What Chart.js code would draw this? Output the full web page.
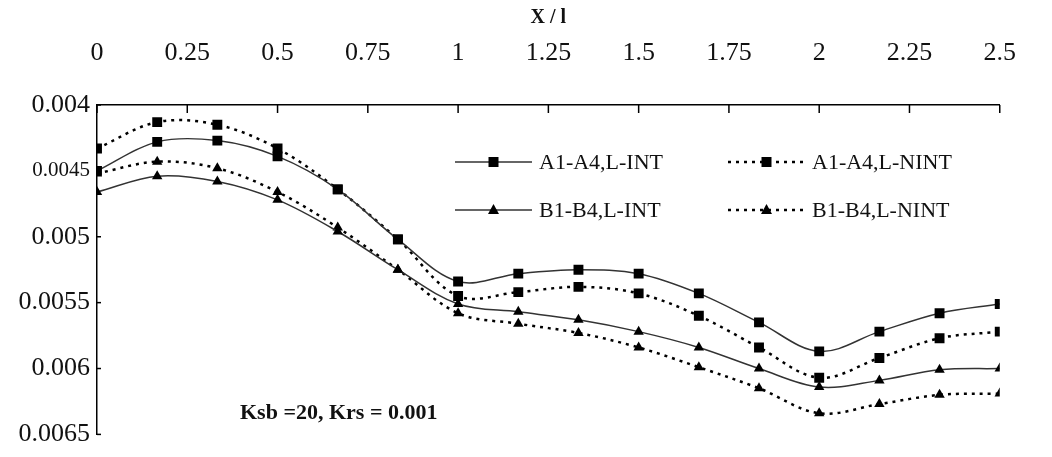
<!DOCTYPE html>
<html>
<head>
<meta charset="utf-8">
<script src="https://cdn.jsdelivr.net/npm/chart.js@4.4.0/dist/chart.umd.min.js"></script>
<style>
    html, body { margin: 0; padding: 0; background: #fff; }
    #wrap { width: 1052px; height: 457px; position: relative; }
</style>
</head>
<body>
<div id="wrap"><canvas id="chart1"></canvas></div>
<script>
// x positions of the measured sections (X / l)
const xValues = [0, 0.1667, 0.3333, 0.5, 0.6667, 0.8333, 1, 1.1667, 1.3333, 1.5, 1.6667, 1.8333, 2, 2.1667, 2.3333, 2.5];
const xTickLabels = ['0', '0.25', '0.5', '0.75', '1', '1.25', '1.5', '1.75', '2', '2.25', '2.5'];
const yTickLabels = ['0.004', '0.0045', '0.005', '0.0055', '0.006', '0.0065'];

// series values
const a1Int = [0.00450, 0.00428, 0.00427, 0.00439, 0.00464, 0.00502, 0.00534, 0.00528, 0.00525, 0.00528, 0.00543, 0.00565, 0.00587, 0.00572, 0.00558, 0.00551];
const a1Nint = [0.00433, 0.00413, 0.00415, 0.00433, 0.00464, 0.00502, 0.00545, 0.00542, 0.00538, 0.00543, 0.00560, 0.00584, 0.00607, 0.00592, 0.00577, 0.00572];
const b1Int = [0.00466, 0.00454, 0.00458, 0.00472, 0.00496, 0.00525, 0.00551, 0.00557, 0.00563, 0.00572, 0.00584, 0.00600, 0.00614, 0.00609, 0.00601, 0.00600];
const b1Nint = [0.00452, 0.00443, 0.00448, 0.00466, 0.00493, 0.00525, 0.00558, 0.00566, 0.00573, 0.00584, 0.00599, 0.00615, 0.00634, 0.00627, 0.00620, 0.00619];

const seriesNames = ['A1-A4,L-INT', 'A1-A4,L-NINT', 'B1-B4,L-INT', 'B1-B4,L-NINT'];
const noteText = 'Ksb =20, Krs = 0.001';

const yMin = 0.004, yStep = 0.0005;
const serif = '"Liberation Serif", "Times New Roman", serif';

function toPoints(values) {
    return values.map((v, i) => ({ x: xValues[i], y: v }));
}

function yIndex(v) {
    return Math.round((v - yMin) / yStep);
}

function makeSet(label, values, dashed, style) {
    return {
        label: label,
        data: toPoints(values),
        borderColor: dashed ? '#000' : '#333',
        borderWidth: dashed ? 2.5 : 1.5,
        borderDash: dashed ? [3, 5] : [],
        backgroundColor: '#000',
        pointStyle: style,
        pointRadius: style === 'rect' ? 7 : 6,
        pointBorderWidth: 0,
        pointBackgroundColor: '#000',
        tension: 0.35,
        fill: false
    };
}

// inward tick marks, inner legend and the note text
const extras = {
    id: 'extras',
    afterDraw(chart) {
        const ctx = chart.ctx;
        const area = chart.chartArea;
        const xs = chart.scales.x;
        const ys = chart.scales.y;
        ctx.save();
        ctx.strokeStyle = '#000';
        ctx.lineWidth = 1.5;
        xs.ticks.forEach(t => {
            const px = xs.getPixelForValue(t.value);
            ctx.beginPath(); ctx.moveTo(px, area.top); ctx.lineTo(px, area.top + 8); ctx.stroke();
        });
        ys.ticks.forEach(t => {
            const py = ys.getPixelForValue(t.value);
            ctx.beginPath(); ctx.moveTo(area.left, py); ctx.lineTo(area.left + 4, py); ctx.stroke();
        });

        // legend, 2 x 2
        const cols = [area.left + 358, area.left + 631];
        const rows = [area.top + 57, area.top + 105];
        chart.data.datasets.forEach((ds, i) => {
            const x0 = cols[i % 2];
            const y0 = rows[Math.floor(i / 2)];
            const len = 77;
            ctx.strokeStyle = ds.borderColor;
            ctx.lineWidth = ds.borderWidth;
            ctx.setLineDash(ds.borderDash);
            ctx.beginPath(); ctx.moveTo(x0, y0); ctx.lineTo(x0 + len, y0); ctx.stroke();
            ctx.setLineDash([]);
            const cx = x0 + len / 2;
            ctx.fillStyle = '#000';
            ctx.beginPath();
            if (ds.pointStyle === 'rect') {
                ctx.rect(cx - 5, y0 - 5, 10, 10);
            } else {
                ctx.moveTo(cx, y0 - 6);
                ctx.lineTo(cx + 5.5, y0 + 4);
                ctx.lineTo(cx - 5.5, y0 + 4);
                ctx.closePath();
            }
            ctx.fill();
            ctx.font = '22px ' + serif;
            ctx.fillStyle = '#111';
            ctx.textBaseline = 'middle';
            ctx.textAlign = 'left';
            ctx.fillText(ds.label, x0 + len + 7, y0 + 1);
        });

        ctx.font = 'bold 22px ' + serif;
        ctx.fillStyle = '#111';
        ctx.textBaseline = 'middle';
        ctx.fillText(noteText, area.left + 143, area.top + 308);
        ctx.restore();
    }
};

const data = {
    datasets: [
        makeSet(seriesNames[0], a1Int, false, 'rect'),
        makeSet(seriesNames[1], a1Nint, true, 'rect'),
        makeSet(seriesNames[2], b1Int, false, 'triangle'),
        makeSet(seriesNames[3], b1Nint, true, 'triangle')
    ]
};

const config = {
    type: 'line',
    data: data,
    plugins: [extras],
    options: {
        responsive: true,
        maintainAspectRatio: false,
        animation: false,
        layout: { padding: { right: 27, bottom: 17 } },
        scales: {
            x: {
                type: 'linear',
                position: 'top',
                min: 0,
                max: 2.5,
                afterFit(scale) { scale.height = 105; },
                border: { display: true, color: '#000', width: 1.5 },
                grid: { display: false, drawTicks: false },
                ticks: {
                    stepSize: 0.25,
                    padding: 36,
                    color: '#111',
                    font: { family: serif, size: 26 },
                    callback: (v) => xTickLabels[Math.round(v / 0.25)]
                },
                title: {
                    display: true,
                    text: 'X / l',
                    color: '#111',
                    font: { family: serif, size: 20, weight: 'bold' },
                    padding: { top: 6, bottom: 0 }
                }
            },
            y: {
                type: 'linear',
                reverse: true,
                min: 0.004,
                max: 0.0065,
                afterFit(scale) { scale.width = 97; },
                border: { display: true, color: '#000', width: 1.5 },
                grid: { display: false, drawTicks: false },
                ticks: {
                    stepSize: yStep,
                    padding: 7,
                    color: '#111',
                    font: (c) => ({ family: serif, size: (c.tick && yIndex(c.tick.value) === 1) ? 21 : 26 }),
                    callback: (v) => yTickLabels[yIndex(v)]
                }
            }
        },
        plugins: {
            legend: { display: false },
            tooltip: { enabled: false }
        }
    }
};

new Chart(document.getElementById('chart1'), config);
</script>
</body>
</html>
